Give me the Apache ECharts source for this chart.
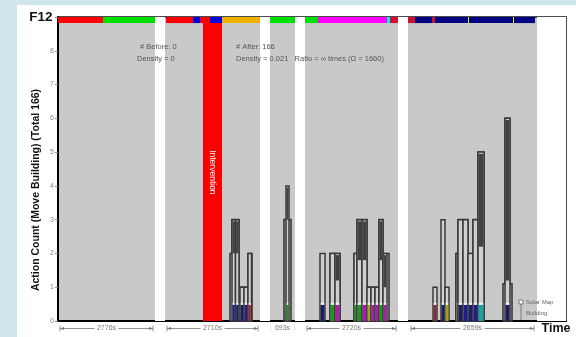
<!DOCTYPE html>
<html><head><meta charset="utf-8">
<script src="https://cdn.jsdelivr.net/npm/echarts@6/dist/echarts.min.js"></script>
<style>html,body{margin:0;padding:0;background:#cfe7eb}#c{width:576px;height:337px}</style>
</head><body><div id="c"></div>
<script>
// ---- data ----
const FILE_COLORS = ['#ff0000','#00e000','#0000dd','#f0b000','#f0f000','#ff00ff','#00eeee','#d01030','#000080'];
const FILE_LABELS = ['1','2','3','4','5','6','7','8','9'];
const Y_TICKS = [0,1,2,3,4,5,6,7,8];
const sessionGaps = [[97,107],[202,212],[237,247],[340,350],[479,508]];
const topSegments = [[0,45,1],[45,97,2],[108,135,1],[135,142,3],[142,152,1],[152,164,3],[164,202,4],
  [212,237,2],[247,260,2],[260,329,6],[329,332,7],[332,340,8],[350,357,8],[357,374,9],[374,377,8],
  [377,410,9],[410,411,5],[411,455,9],[455,456,5],[456,477,9]];
const intervention = [145,164];
// step profiles: [time, count] held until next time
const envelopes = [
  [[172,2],[174,3],[181,1],[190,2],[194,0]],
  [[226,3],[233,0]],
  [[272,2],[282,0]],
  [[296,2],[299,3],[309,1],[321,3],[325,2],[331,0]],
  [[398,2],[400,3],[410,2],[415,3],[420,5],[426,0]],
  [[445,1.1],[447,6],[452,1.1],[454,0]]
];
// bars: [t0, t1, count, darkFrom, darkTo, file]
const bars = [
  [174,177.5,3,2,3,3],[177.5,181,3,2,3,9],[182,186,1,0,0,9],[186,190,1,0,0,3],[190,193.5,2,0,0,1],
  [228,231,4,3,4,2],
  [262,267,2,0,0,9],[272,277,2,0,0,2],[277,282,2,1.2,2,6],
  [296,299,2,0,0,2],[299,304,3,1.8,3,2],[304,309,3,1.8,3,6],[309,313,1,0,0,5],[313,317,1,0,0,6],[317,321,1,0,0,6],
  [321,325,3,1.8,3,2],[325,329,2,1,2,6],
  [375,379,1,0,0,8],[383,387,3,0,0,9],[387,391,1,0,0,5],
  [398,400,2,0,0,5],[400,405,3,0,0,9],[405,410,3,0,0,3],[410,415,2,0,0,9],[415,420,3,0,0,3],[420,426,5,2.2,5,7],
  [447,452,6,1.2,6,9]
];
const spans = [[1,96,'2776s'],[108,201,'2710s'],[212,237,'693s'],[248,339,'2720s'],[352,477,'2659s']];

function mix(hex, w){
  const n=parseInt(hex.slice(1),16);const r=(n>>16)&255,g=(n>>8)&255,b=n&255;
  const m=v=>Math.round(v*w+64*(1-w));
  return 'rgb('+m(r)+','+m(g)+','+m(b)+')';
}
function rect(api,t0,t1,y0,y1,style){
  const a=api.coord([t0,y1]),b=api.coord([t1,y0]);
  return {type:'rect',shape:{x:a[0],y:a[1],width:b[0]-a[0],height:b[1]-a[1]},style:style};
}

const chart = echarts.init(document.getElementById('c'));
const legendItems = [];
FILE_COLORS.forEach((c,i)=>{
  const y = 31 + i*14.5;
  legendItems.push({type:'rect',shape:{x:548,y:y,width:14,height:9,r:2},style:{fill:c,stroke:mix(c,0.6),lineWidth:0.8}});
  legendItems.push({type:'text',x:555,y:y+4.5,style:{text:FILE_LABELS[i],fill:'#fff',font:'bold 6px "Liberation Sans"',align:'center',verticalAlign:'middle'}});
});

chart.setOption({
  backgroundColor:'#cfe7eb',
  animation:false,
  grid:{left:58,right:10,top:17,bottom:16,show:true,backgroundColor:'#c9c9c9',borderColor:'#111',borderWidth:1.5},
  xAxis:{type:'value',min:0,max:508,axisLine:{show:true,onZero:false,lineStyle:{color:'#000',width:2}},axisTick:{show:false},axisLabel:{show:false},splitLine:{show:false}},
  yAxis:{type:'value',min:0,max:9,interval:1,axisLine:{show:true,lineStyle:{color:'#000',width:2}},
    axisTick:{show:true,length:3,lineStyle:{color:'#888'}},
    axisLabel:{fontSize:7,color:'#888',margin:4,fontFamily:'Liberation Sans',formatter:v=>Y_TICKS.includes(v)?String(v):''},
    splitLine:{show:false}},
  graphic:[
    {type:'rect',z:-10,shape:{x:17,y:5,width:559,height:332},style:{fill:'#fff'}},
    {type:'text',x:41,y:17,style:{text:'F12',font:'bold 13.5px "Liberation Sans"',fill:'#111',align:'center',verticalAlign:'middle'}},
    {type:'text',x:556,y:329,style:{text:'Time',font:'bold 12.5px "Liberation Sans"',fill:'#111',align:'center',verticalAlign:'middle'}},
    {type:'text',x:36,y:190,rotation:Math.PI/2,style:{text:'Action Count (Move Building) (Total 166)',font:'bold 10.5px "Liberation Sans"',fill:'#111',align:'center',verticalAlign:'middle'}},
    {type:'text',x:555,y:22,style:{text:'Files',font:'bold 6.5px "Liberation Sans"',fill:'#333',align:'center',verticalAlign:'middle'}},
    {type:'text',x:140,y:47,z:50,style:{text:'# Before: 0',font:'7.5px "Liberation Sans"',fill:'#555',verticalAlign:'middle'}},
    {type:'text',x:137,y:59,z:50,style:{text:'Density = 0',font:'7.5px "Liberation Sans"',fill:'#555',verticalAlign:'middle'}},
    {type:'text',x:236,y:47,z:50,style:{text:'# After: 166',font:'7.5px "Liberation Sans"',fill:'#555',verticalAlign:'middle'}},
    {type:'text',x:236,y:59,z:50,style:{text:'Density = 0.021   Ratio = \u221E times (\u03A9 = 1660)',font:'7.5px "Liberation Sans"',fill:'#555',verticalAlign:'middle'}},
    {type:'line',z:50,shape:{x1:521,y1:304,x2:521,y2:320},style:{stroke:'#666',lineWidth:0.8}},
    {type:'rect',z:50,shape:{x:519,y:300,width:4,height:4},style:{fill:'#fff',stroke:'#666',lineWidth:0.8}},
    {type:'text',x:526,y:302,z:50,style:{text:'Solar Map',font:'6px "Liberation Sans"',fill:'#666',verticalAlign:'middle'}},
    {type:'text',x:526,y:313,z:50,style:{text:'Building',font:'6px "Liberation Sans"',fill:'#666',verticalAlign:'middle'}},
    {type:'group',z:50,children:legendItems}
  ],
  series:[
    {type:'custom',name:'gaps',data:sessionGaps.map(g=>[g[0],0]),clip:false,
      renderItem:(p,api)=>{const g=sessionGaps[p.dataIndex];return rect(api,g[0],g[1],0,9,{fill:'#fff'});}},
    {type:'custom',name:'top',data:topSegments.map(s=>[s[0],9]),clip:false,
      renderItem:(p,api)=>{const s=topSegments[p.dataIndex];return rect(api,s[0],s[1],8.82,9,{fill:FILE_COLORS[s[2]-1]});}},
    {type:'custom',name:'intervention',data:[[intervention[0],0]],clip:false,
      renderItem:(p,api)=>{
        const r=rect(api,intervention[0],intervention[1],0,8.82,{fill:'#ff0000'});
        const c=api.coord([(intervention[0]+intervention[1])/2,4.4]);
        return {type:'group',children:[r,{type:'text',x:c[0],y:c[1],rotation:-Math.PI/2,
          style:{text:'Intervention',fill:'#fff',font:'8.5px "Liberation Sans"',align:'center',verticalAlign:'middle'}}]};
      }},
    {type:'custom',name:'envelopes',data:envelopes.map(e=>[e[0][0],0]),clip:false,
      renderItem:(p,api)=>{
        const e=envelopes[p.dataIndex];const pts=[api.coord([e[0][0],0])];let prev=0;
        e.forEach(s=>{pts.push(api.coord([s[0],prev]));pts.push(api.coord([s[0],s[1]]));prev=s[1];});
        return {type:'polygon',shape:{points:pts},style:{fill:'#d4d4d4',stroke:'#383838',lineWidth:1.6}};
      }},
    {type:'custom',name:'bars',data:bars.map(b=>[b[0],b[2]]),clip:false,
      renderItem:(p,api)=>{
        const b=bars[p.dataIndex];const ch=[];
        ch.push(rect(api,b[0],b[1],0,b[2],{fill:'#cfcfcf',stroke:'#383838',lineWidth:1.5}));
        if(b[4]>b[3]) ch.push(rect(api,b[0]+0.6,b[1]-0.6,b[3],b[4]-0.05,{fill:'#424242'}));
        ch.push(rect(api,b[0]+0.7,b[1]-0.7,0,0.48,{fill:mix(FILE_COLORS[b[5]-1],0.55)}));
        ch.push(rect(api,b[0]+0.7,b[1]-0.7,0.48,0.54,{fill:'#f2f2f2'}));
        return {type:'group',children:ch};
      }},
    {type:'custom',name:'spans',data:spans.map(s=>[s[0],0]),clip:false,
      renderItem:(p,api)=>{
        const s=spans[p.dataIndex];const a=api.coord([s[0],0]),b=api.coord([s[1],0]);
        const y=a[1]+7.5,x0=a[0]+1,x1=b[0]-1,m=(x0+x1)/2;const st={stroke:'#777',lineWidth:0.8};
        return {type:'group',children:[
          {type:'line',shape:{x1:x0,y1:y,x2:x1,y2:y},style:st},
          {type:'line',shape:{x1:x0,y1:y-3,x2:x0,y2:y+3},style:st},
          {type:'line',shape:{x1:x1,y1:y-3,x2:x1,y2:y+3},style:st},
          {type:'polygon',shape:{points:[[x0,y],[x0+4,y-1.5],[x0+4,y+1.5]]},style:{fill:'#777'}},
          {type:'polygon',shape:{points:[[x1,y],[x1-4,y-1.5],[x1-4,y+1.5]]},style:{fill:'#777'}},
          {type:'rect',shape:{x:m-12,y:y-4,width:24,height:8},style:{fill:'#fff'}},
          {type:'text',x:m,y:y,style:{text:s[2],fill:'#777',font:'7px "Liberation Sans"',align:'center',verticalAlign:'middle'}}
        ]};
      }}
  ]
});
</script></body></html>
